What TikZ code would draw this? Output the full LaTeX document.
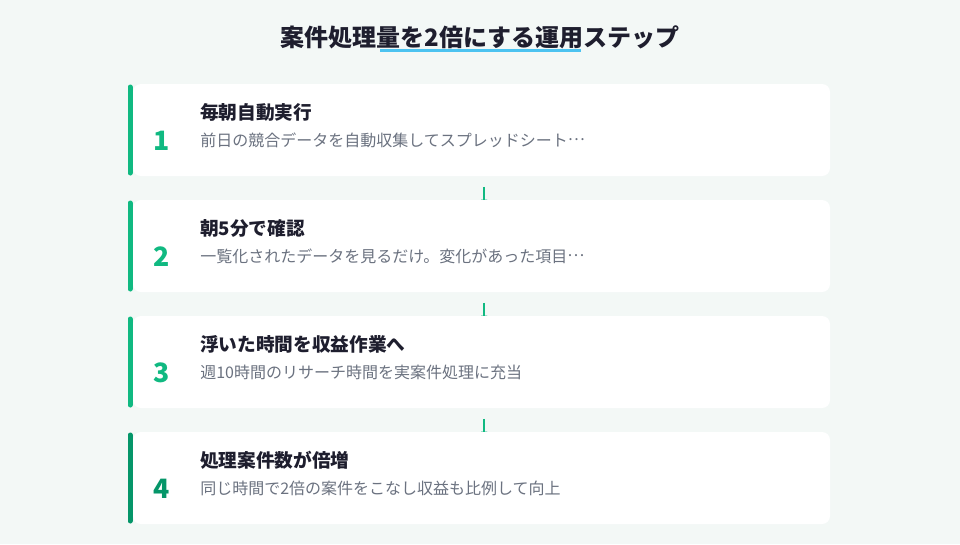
\documentclass[tikz,border=0pt]{standalone}
\usepackage{fontspec}
\setmainfont{Noto Sans CJK JP}
\usetikzlibrary{arrows.meta, backgrounds}
\definecolor{bgmint}{HTML}{F3F8F6}
\definecolor{inkdark}{HTML}{1E1E2E}
\definecolor{stepgreen}{HTML}{10B981}
\definecolor{stepdeep}{HTML}{059669}
\definecolor{subgray}{HTML}{6B7280}
\definecolor{skyline}{HTML}{4CC3F0}
\newcommand\midell{\raisebox{0.33em}{…}}
\tikzset{>=latex,
  card/.style={fill=white, rounded corners=6pt, minimum width=522.75pt, minimum height=69pt, inner sep=0pt},
  headtxt/.style={anchor=west, inner sep=0pt, text=inkdark, font=\fontsize{14}{16}\selectfont\bfseries},
  bodytxt/.style={anchor=west, inner sep=0pt, text=subgray, font=\fontsize{12}{14}\selectfont},
  numtxt/.style={inner sep=0pt, font=\fontsize{20}{22}\selectfont\bfseries},
  conn/.style={stepgreen, line width=1.5pt, -{Latex[length=4pt,width=5pt]}}
}

\begin{document}
\begin{tikzpicture}[x=0.75pt, y=-0.75pt]
  \useasboundingbox (0,0) rectangle (960,544);

  % title
  \node[inner sep=0pt, text=inkdark, font=\fontsize{18}{20}\selectfont\bfseries] (title) at (480,37) {案件処理量を2倍にする運用ステップ};
  \draw[skyline, line width=2.25pt] (380,50.5) -- (581,50.5);

  % step cards
  \foreach \i/\head/\body/\col in {
      1/毎朝自動実行/前日の競合データを自動収集してスプレッドシート\midell/stepgreen,
      2/朝5分で確認/一覧化されたデータを見るだけ。変化があった項目\midell/stepgreen,
      3/浮いた時間を収益作業へ/週10時間のリサーチ時間を実案件処理に充当/stepgreen,
      4/処理案件数が倍増/同じ時間で2倍の案件をこなし収益も比例して向上/stepdeep}{
    \pgfmathsetmacro\cy{14+116*\i}
    \node[card] (card\i) at (481.5,\cy) {};
    \draw[\col, line width=3.75pt, line cap=round] (130,\cy-43) -- (130,\cy+43);
    \node[numtxt, text=\col] (num\i) at (162,\cy+11) {\i};
    \node[headtxt] (head\i) at (200,\cy-18) {\head};
    \node[bodytxt] (body\i) at (200,\cy+10) {\body};
  }

  \begin{scope}[on background layer]
    \fill[bgmint] (0,0) rectangle (960,544);
    \foreach \i [evaluate=\i as \j using int(\i+1)] in {1,2,3}{
      \draw[conn] ([xshift=2pt, yshift=-8pt]card\i.south) -- ([xshift=2pt, yshift=-4pt]card\j.north);
    }
  \end{scope}
\end{tikzpicture}
\end{document}
